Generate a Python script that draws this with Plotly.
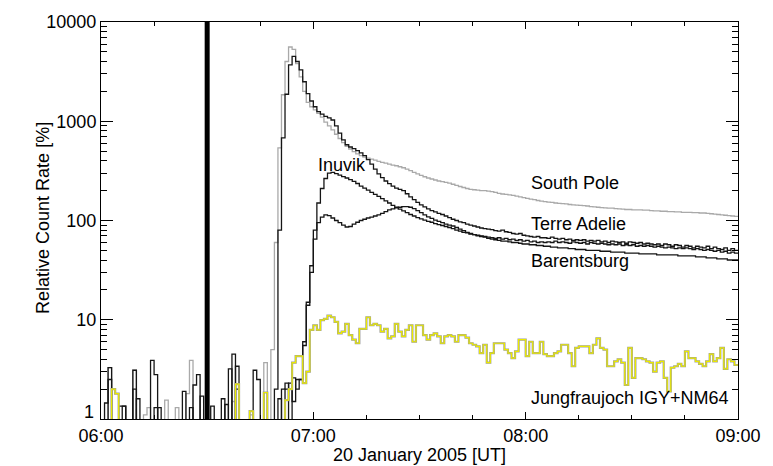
import numpy as np
import pandas as pd
import plotly.graph_objects as go

# one-minute relative count-rate increases [%], 06:00 .. 08:59 UT, 20 Jan 2005
south_pole = [
    .5, .5, 3.3, .5, .5, .5, .5, .5, .5, 3.1,
    .5, .5, 1.1, 1.3, .5, .5, .5, .5, 1.55, .5,
    .5, 1.3, .5, .5, 1.8, 3.9, .5, .5, .5, .5,
    .5, .5, .5, .5, .5, .5, .5, 1.5, .5, .5,
    .5, .5, 1.1, .5, .5, .5, 3.7, .5, 5.0, 60,
    540, 1850, 4000, 5600, 5300, 3800, 2800, 2000, 1550, 1400,
    1300, 1200, 1100, 980, 900, 820, 740, 670, 610, 560,
    525, 495, 470, 450, 435, 425, 415, 405, 395, 385,
    378, 370, 362, 356, 348, 340, 330, 318, 305, 295,
    285, 276, 268, 262, 256, 250, 246, 242, 238, 232,
    226, 220, 215, 210, 206, 204, 202, 200, 200, 198,
    195, 192, 188, 185, 183, 181, 179, 176, 173, 170,
    167, 164, 162, 159, 157, 155, 153, 152, 150, 149,
    148, 147, 145, 144, 143, 142, 141, 140, 138, 137,
    136, 135, 134, 133, 133, 132, 131, 130, 129, 129,
    128, 128, 128, 127, 127, 126, 125, 125, 124, 124,
    123, 123, 122, 122, 121, 121, 121, 120, 120, 119,
    119, 118, 117, 116, 115, 114, 113, 112, 111, 110,
]

terre_adelie = [
    .5, 1.45, 3.3, .5, .5, .5, .5, .5, .5, 3.1,
    .5, .5, .5, .5, 3.9, 2.8, .5, .5, .5, .5,
    .5, .5, .5, 1.9, .5, .5, 2.2, 2.8, .5, .5,
    .5, 1.35, .5, .5, .5, .5, .5, 4.5, .5, .5,
    .5, .5, .5, 3.1, 2.5, .5, .5, .5, .5, 2.0,
    80, 680, 1870, 3700, 4500, 4000, 3300, 2500, 1900, 1600,
    1400, 1250, 1180, 1120, 1080, 1030, 900, 760, 650, 580,
    550, 530, 505, 480, 450, 410, 370, 330, 295, 270,
    250, 235, 222, 212, 206, 200, 186, 173, 162, 152,
    144, 137, 131, 126, 122, 118, 115, 111, 107, 103,
    100, 97, 95, 92, 90, 88, 86, 84, 83, 82,
    81, 79, 78, 80, 77, 76, 74, 73, 74, 71,
    70, 69, 68, 69, 67, 67, 66, 68, 66, 65,
    66, 64, 65, 63, 64, 63, 64, 62, 63, 62,
    63, 61, 62, 60, 62, 61, 60, 61, 59, 61,
    60, 59, 60, 58, 59, 58, 57, 58, 56, 58,
    57, 55, 57, 56, 54, 56, 55, 53, 55, 54,
    53, 55, 52, 54, 52, 51, 53, 50, 52, 50,
]

inuvik = [
    .5, .5, 2.5, .5, .5, .5, 1.35, .5, .5, 2.0,
    .5, .5, .5, .5, .5, 1.3, .5, .5, .5, .5,
    .5, .5, .5, .5, .5, 1.3, .5, .5, .5, .5,
    .5, .5, .5, .5, 1.6, .5, 3.2, .5, 3.4, .5,
    .5, .5, .5, .5, .5, .5, .5, .5, .5, .5,
    1.6, .5, 2.0, 2.3, 1.5, 2.5, 2.5, 6, 15, 35,
    80, 150, 210, 265, 300, 305, 296, 286, 277, 268,
    258, 248, 236, 222, 212, 202, 192, 183, 175, 166,
    158, 150, 142, 136, 130, 125, 120, 115, 111, 107,
    104, 101, 98, 96, 93, 91, 89, 87, 85, 83,
    80, 78, 76, 75, 73, 72, 70, 69, 68, 66,
    65, 64, 63, 62, 62, 61, 60, 60, 59, 58,
    58, 57, 57, 56, 56, 55, 55, 54, 54, 53,
    53, 53, 52, 52, 51, 51, 51, 50, 50, 50,
    50, 49, 49, 49, 48, 48, 48, 48, 47, 47,
    47, 47, 46, 46, 46, 46, 46, 45, 45, 45,
    45, 45, 45, 44, 44, 44, 44, 44, 43, 43,
    43, 42, 42, 42, 41, 41, 41, 40, 40, 40,
]

barentsburg = [
    .5, .5, .5, .5, .5, 1.35, 1.35, .5, .5, .5,
    1.6, .5, .5, .5, .5, .5, 1.3, .5, .5, .5,
    .5, .5, .5, .5, .5, .5, .5, .5, 1.7, .5,
    .5, .5, .5, .5, .5, 1.4, .5, .5, 2.0, .5,
    .5, .5, .5, .5, .5, .5, .5, .5, .5, .5,
    .5, 2.0, 2.3, .5, 2.6, 2.0, 2.5, 5.5, 14, 30,
    65, 95, 108, 114, 112, 106, 100, 95, 90, 86,
    87, 92, 96, 100, 103, 106, 108, 111, 114, 118,
    123, 128, 131, 134, 136, 138, 138, 136, 132, 126,
    120, 114, 109, 105, 101, 98, 95, 92, 90, 88,
    85, 82, 79, 76, 74, 72, 71, 70, 69, 68,
    67, 66, 67, 65, 66, 64, 65, 63, 64, 62,
    63, 61, 62, 60, 61, 60, 61, 60, 62, 60,
    61, 60, 59, 61, 60, 59, 60, 58, 60, 59,
    58, 59, 58, 57, 58, 57, 58, 56, 57, 56,
    57, 55, 56, 55, 56, 55, 54, 55, 54, 53,
    54, 53, 52, 53, 52, 53, 52, 51, 52, 51,
    50, 51, 50, 49, 50, 48, 49, 47, 48, 47,
]

jungfraujoch = [
    .5, .5, .5, 2.0, 1.8, .5, .5, .5, .5, .5,
    .5, .5, .5, .5, .5, .5, .5, .5, .5, .5,
    .5, .5, .5, .5, .5, .5, .5, .5, .5, .5,
    .5, .5, .5, .5, .5, .5, .5, .5, 2.25, .5,
    .5, .5, 1.2, .5, .5, .5, 1.85, .5, .5, .5,
    .5, .5, 1.55, 2.0, 3.7, 4.3, 4.3, 2.3, 3.0, 7.9,
    8.8, 7.9, 9.9, 10.2, 11.0, 10.6, 9.5, 7.3, 7.6, 9.1,
    7.0, 6.3, 5.8, 8.1, 8.1, 10.6, 8.8, 9.1, 8.8, 7.6,
    8.1, 6.5, 6.8, 9.1, 7.6, 6.8, 7.9, 8.8, 6.0, 8.8,
    8.8, 7.0, 6.3, 7.0, 7.3, 6.8, 5.8, 6.8, 7.0, 6.8,
    6.0, 7.0, 7.0, 6.6, 5.8, 5.6, 5.4, 4.6, 5.6, 3.7,
    4.6, 5.8, 5.8, 5.8, 5.0, 4.6, 4.1, 4.8, 6.3, 6.3,
    4.3, 6.0, 4.6, 4.6, 6.0, 4.5, 4.3, 4.3, 4.6, 4.8,
    5.6, 5.6, 4.6, 3.4, 5.2, 5.4, 5.4, 5.4, 4.6, 5.6,
    6.5, 5.2, 5.0, 3.4, 3.4, 3.8, 4.0, 3.7, 2.2, 5.2,
    2.6, 4.1, 4.1, 4.0, 3.8, 3.7, 3.0, 3.7, 3.8, 2.6,
    1.9, 3.3, 3.4, 3.6, 3.4, 4.8, 4.1, 4.1, 3.8, 3.6,
    3.4, 3.8, 4.5, 3.8, 4.1, 5.2, 3.2, 4.0, 3.8, 3.5,
]

start_time = "2005-01-20 06:00"
end_time = "2005-01-20 09:00"
flare_marker = "2005-01-20 06:30"

y_tick_values = [1, 10, 100, 1000, 10000]
y_tick_text = ["", "10", "100", "1000", "10000"]   # "1" drawn separately, raised as in original
bottom_label = ("1", 1)

station_labels = [
    ("South Pole", "2005-01-20 08:00", 237, 3),
    ("Terre Adelie", "2005-01-20 08:00", 93, 3),
    ("Barentsburg", "2005-01-20 08:00", 39, 3),
    ("Inuvik", "2005-01-20 07:01", 362, -1),
    ("Jungfraujoch IGY+NM64", "2005-01-20 08:00", 1.62, 3),
]

for arr in (south_pole, terre_adelie, inuvik, barentsburg, jungfraujoch):
    assert len(arr) == 180

times = pd.date_range(start_time, periods=181, freq="min")


def ext(a):
    return list(a) + [a[-1]]


FONT = "Liberation Sans, Arial, sans-serif"
fig = go.Figure()

fig.add_trace(go.Scatter(x=times, y=ext(south_pole), mode="lines", line_shape="hv",
                         line=dict(color="#a9a9a9", width=1.3), name="South Pole"))
for name, arr in (("Terre Adelie", terre_adelie), ("Inuvik", inuvik), ("Barentsburg", barentsburg)):
    fig.add_trace(go.Scatter(x=times, y=ext(arr), mode="lines", line_shape="hv",
                             line=dict(color="#151515", width=1.3), name=name))
fig.add_trace(go.Scatter(x=times, y=ext(jungfraujoch), mode="lines", line_shape="hv",
                         line=dict(color="#9c9c9c", width=2.2), name="Jungfraujoch NM64"))
fig.add_trace(go.Scatter(x=times, y=ext(jungfraujoch), mode="lines", line_shape="hv",
                         line=dict(color="#eaea00", width=1.2), name="Jungfraujoch IGY"))

fig.add_vline(x=pd.Timestamp(flare_marker).value / 1e6, line_width=5, line_color="black")

for text, t, v, dx in station_labels:
    fig.add_annotation(x=t, y=np.log10(v), xref="x", yref="y", text=text, showarrow=False,
                       xanchor="left", yanchor="middle", xshift=dx,
                       font=dict(family=FONT, size=18, color="black"))

fig.add_annotation(x=0, y=np.log10(bottom_label[1]), xref="paper", yref="y", text=bottom_label[0],
                   showarrow=False, xanchor="right", yanchor="middle", xshift=-5, yshift=7,
                   font=dict(family=FONT, size=18, color="black"))

fig.add_annotation(x=-0.0913, y=0.506, xref="paper", yref="paper", text="Relative Count Rate [%]",
                   textangle=-90, showarrow=False, xanchor="center", yanchor="middle",
                   font=dict(family=FONT, size=18, color="black"))
fig.add_annotation(x=0.5, y=-0.09, xref="paper", yref="paper", text="20 January 2005 [UT]",
                   showarrow=False, xanchor="center", yanchor="middle",
                   font=dict(family=FONT, size=18, color="black"))

minor_y = [m * 10 ** d for d in range(4) for m in range(2, 10)]

fig.update_layout(
    width=773, height=466,
    margin=dict(l=101, r=26, t=13, b=47),
    paper_bgcolor="white", plot_bgcolor="white",
    showlegend=False,
    font=dict(family=FONT, size=18, color="black"),
    xaxis=dict(type="date", range=[start_time, end_time], tickformat="%H:%M",
               dtick=3600000, tick0=start_time, ticks="inside", ticklen=7, tickwidth=1,
               tickcolor="black", showline=True, linecolor="black", linewidth=1,
               mirror="allticks", showgrid=False, zeroline=False,
               tickfont=dict(family=FONT, size=18, color="black"),
               minor=dict(dtick=900000, tick0=start_time, ticks="inside", ticklen=4,
                          tickcolor="black", showgrid=False)),
    yaxis=dict(type="log", range=[0, 4], tickvals=y_tick_values, ticktext=y_tick_text,
               ticks="inside", ticklen=12, tickwidth=1, tickcolor="black",
               showline=True, linecolor="black", linewidth=1, mirror="allticks",
               showgrid=False, zeroline=False,
               tickfont=dict(family=FONT, size=18, color="black"),
               minor=dict(tickvals=minor_y, ticks="inside", ticklen=6, tickcolor="black",
                          showgrid=False)),
)

fig.write_html("out.html")
